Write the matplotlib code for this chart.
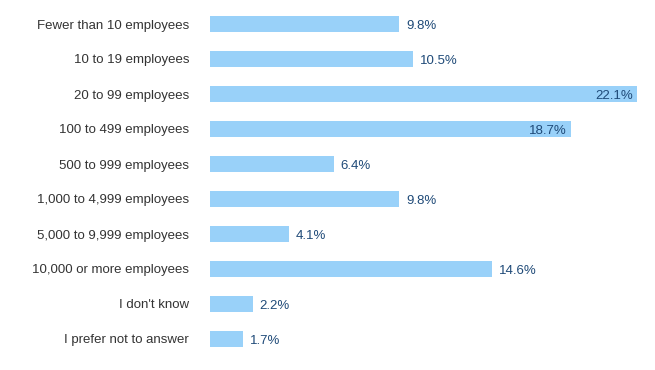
import matplotlib.pyplot as plt

plt.rcParams['font.family'] = ['Liberation Sans', 'DejaVu Sans']

categories = ['Fewer than 10 employees', '10 to 19 employees', '20 to 99 employees',
              '100 to 499 employees', '500 to 999 employees', '1,000 to 4,999 employees',
              '5,000 to 9,999 employees', '10,000 or more employees', "I don't know",
              'I prefer not to answer']
values = [9.8, 10.5, 22.1, 18.7, 6.4, 9.8, 4.1, 14.6, 2.2, 1.7]
inside = [False, False, True, True, False, False, False, False, False, False]

fig = plt.figure(figsize=(6.55, 3.7), dpi=100)
ax = fig.add_axes([210 / 655, 1 - 356.5 / 370, 427 / 655, 350 / 370])

y = range(len(categories))
ax.barh(y, values, height=0.46, color='#99d1f9')
ax.set_xlim(0, 22.1)
ax.set_ylim(len(categories) - 0.5, -0.5)

# big bars get the label inside the bar end
for i, v in enumerate(values):
    if inside[i]:
        ax.annotate(f'{v}%', (v, i), xytext=(-3, -1.5), textcoords='offset points',
                    ha='right', va='center', fontsize=9.5, color='#1f4a78')
    else:
        ax.annotate(f'{v}%', (v, i), xytext=(5, -1.5), textcoords='offset points',
                    ha='left', va='center', fontsize=9.5, color='#1f4a78')

ax.set_yticks(list(y))
ax.set_yticklabels(categories, fontsize=9.5, color='#333333')
ax.tick_params(axis='y', length=0, pad=15)
ax.set_xticks([])
for s in ax.spines.values():
    s.set_visible(False)

fig.savefig('out.png', dpi=100)
